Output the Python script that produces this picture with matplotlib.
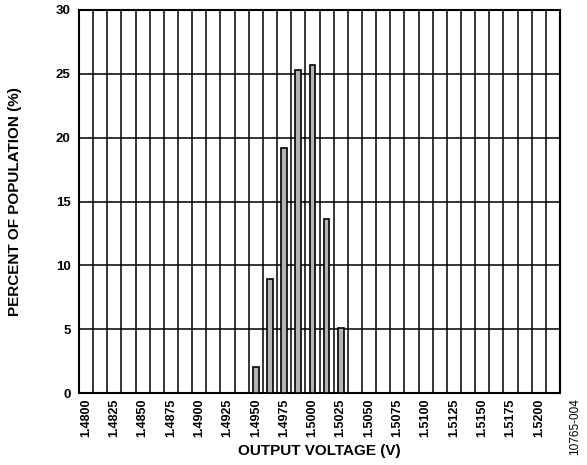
import matplotlib

matplotlib.use("Agg")

import matplotlib.pyplot as plt
import numpy as np

# histogram data
bin_width = 0.00125
bar_centers = [1.4950, 1.49625, 1.4975, 1.49875, 1.5000, 1.50125, 1.5025]
bar_percent = [2.0, 8.9, 19.2, 25.3, 25.7, 13.6, 5.1]
x_tick_values = [1.4800 + 0.0025 * i for i in range(17)]
x_tick_labels = [f"{v:.4f}" for v in x_tick_values]
y_tick_values = [0, 5, 10, 15, 20, 25, 30]

plt.rcParams["font.family"] = ["Liberation Sans", "DejaVu Sans"]

fig = plt.figure(figsize=(5.87, 4.65), dpi=100)
ax = fig.add_axes([0.1346, 0.1548, 0.8194, 0.8237])

x_lo = 1.4800 - bin_width / 2
x_hi = 1.5200 + bin_width * 1.5
edges = np.arange(x_lo, x_hi + bin_width / 2, bin_width)

ax.bar(bar_centers, bar_percent, width=0.0005, color="#b4b4b4",
       edgecolor="black", linewidth=1.2, zorder=3)

ax.set_xlim(x_lo, x_hi)
ax.set_ylim(0, 30)
ax.set_xticks(x_tick_values)
ax.set_xticklabels(x_tick_labels, rotation=90, fontsize=9, fontweight="bold")
ax.set_xticks(edges, minor=True)
ax.set_yticks(y_tick_values)
ax.set_yticklabels([str(v) for v in y_tick_values], fontsize=9.5, fontweight="bold")
ax.tick_params(axis="both", which="both", length=0)
ax.tick_params(axis="x", pad=4)
ax.tick_params(axis="y", pad=6)

ax.grid(which="minor", axis="x", color="black", linewidth=1.1, zorder=0)
ax.grid(which="major", axis="y", color="black", linewidth=1.1, zorder=0)
ax.grid(which="major", axis="x", visible=False)
ax.set_axisbelow(True)
for spine in ax.spines.values():
    spine.set_linewidth(1.5)

ax.set_xlabel("OUTPUT VOLTAGE (V)", fontsize=11, fontweight="bold", labelpad=5)
ax.set_ylabel("PERCENT OF POPULATION (%)", fontsize=11, fontweight="bold", labelpad=24)

fig.text(0.98, 0.082, "10765-004", rotation=90, fontsize=8.5, ha="center", va="center")

fig.savefig("out.png", dpi=100)
